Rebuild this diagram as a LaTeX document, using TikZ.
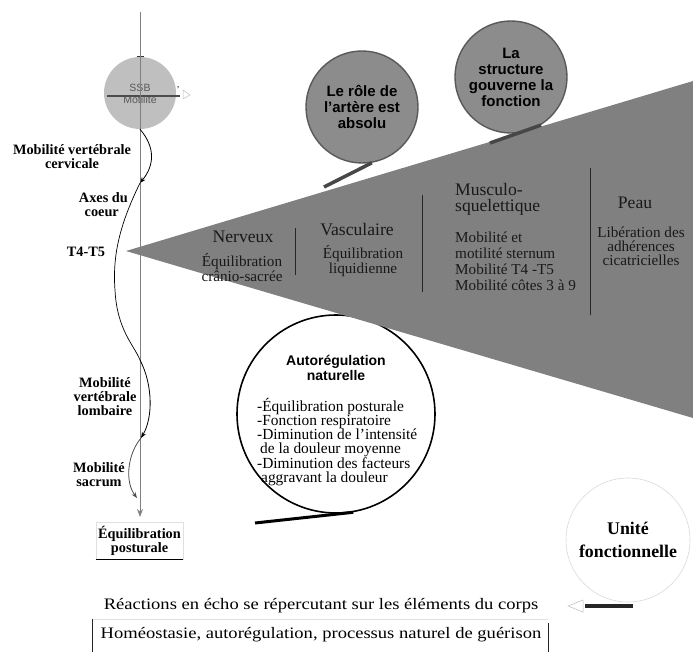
\documentclass[tikz,border=0pt]{standalone}
\usepackage{fontspec}
\setmainfont{Liberation Serif}
\setsansfont{Liberation Sans}
\newfontfamily\widefont{Liberation Serif}[FakeStretch=1.16]
\usetikzlibrary{arrows.meta}

\begin{document}
\begin{tikzpicture}[x=1pt,y=-1pt,
  spinelbl/.style={font=\bfseries\fontsize{14.3}{14}\selectfont, align=center, inner sep=0pt},
  sysname/.style={font=\fontsize{17.6}{15.5}\selectfont, inner sep=0pt, black!90},
  systext/.style={font=\fontsize{15.2}{15}\selectfont, align=center, inner sep=0pt, black!90},
  bubble/.style={circle, draw=black!65, line width=1.4pt, fill=black!45, minimum size=112pt, inner sep=0pt, font=\sffamily\bfseries\fontsize{15}{16}\selectfont, align=center},
  stem/.style={line width=3.5pt, black!72},
  spinearrow/.style={line width=0.8pt, -{Stealth[length=6pt,width=4.5pt]}},
  sep/.style={line width=1pt, black!85}]

\useasboundingbox (0,0) rectangle (693,655);

% autoregulation circle goes under the fan
\node[circle, draw=black, line width=1.6pt, minimum size=198pt] (auto) at (336,414) {};
\fill[black!50] (126,251) -- (693,81) -- (693,418) -- cycle;

% bubbles on top of the fan
\node[bubble] (artere) at (362,107) {Le rôle de\\l'artère est\\absolu};
\node[bubble] (struct) at (511,77) {La\\structure\\gouverne la\\fonction};
\coordinate (artfoot) at (324,187);
\coordinate (strfoot) at (490,143);
\draw[stem] (artere.-80) -- (artfoot);
\draw[stem] (struct.-58) -- (strfoot);

% systems in the fan
\node[sysname] (nerv) at (243,237) {Nerveux};
\node[systext] (nervtx) at (242,268) {Équilibration\\crânio-sacrée};
\node[sysname] (vasc) at (357,230) {Vasculaire};
\node[systext] (vasctx) at (363,261) {Équilibration\\liquidienne};
\node[sysname, align=left, anchor=north west, font=\fontsize{17.6}{16.5}\selectfont] (musc) at (455,183) {Musculo-\\squelettique};
\node[systext, align=left, font=\fontsize{15.2}{16}\selectfont, anchor=north west] (musctx) at (455,232) {Mobilité et\\motilité sternum\\Mobilité T4 -T5\\Mobilité côtes 3 à 9};
\node[sysname] (peau) at (635,203) {Peau};
\node[systext, font=\fontsize{15.2}{14}\selectfont] (peautx) at (641,246) {Libération des\\adhérences\\cicatricielles};
\draw[sep] (295,228) -- (295,275);
\draw[sep] (422,195) -- (422,292);
\draw[sep] (590,168) -- (590,315);

% spine
\node[circle, fill=black!25, minimum size=72pt, inner sep=0pt] (ssb) at (140,93) {};
\node[font=\sffamily\fontsize{10.5}{12}\selectfont, text=black!65, align=center, inner sep=0pt] (ssbtx) at (140,94) {SSB\\Motilité};
\draw[black!70, line width=1.1pt] (107,96) -- (180,96);
\draw[black!80, line width=1pt] (137,57) -- (144,57);
\coordinate (top) at (140,12);
\coordinate (bottom) at (140,517);
\draw[black!50, line width=0.9pt, -{Stealth[length=8pt,width=6pt]}] (top) -- (bottom);
\node[font=\fontsize{9}{9}\selectfont, inner sep=0pt] (tick) at (178,90) {'};
\draw[black!25, fill=white, line width=0.5pt] (183,90) -- (190,95) -- (183,99) -- cycle;

\coordinate (c1) at (140,183);
\coordinate (c2) at (140,360);
\coordinate (c3) at (141,438);
\coordinate (c4) at (137,498);
\draw[spinearrow] (ssb.south) .. controls (156,148) and (154,166) .. (c1);
\draw[line width=0.7pt] (c1) .. controls (122,220) and (112,252) .. (115,290) .. controls (117,330) and (134,345) .. (c2);
\draw[spinearrow] (c2) .. controls (153,385) and (153,418) .. (c3);
\draw[spinearrow, black!70] (c3) .. controls (127,455) and (125,482) .. (c4);

\node[spinelbl] (cerv) at (72,157) {Mobilité vertébrale\\cervicale};
\node[spinelbl, align=right, anchor=east] (axes) at (128,205) {Axes du\\coeur\hspace*{9pt}};
\node[spinelbl] (t45) at (86,252) {T4-T5};
\node[spinelbl] (lomb) at (105,397) {Mobilité\\vertébrale\\lombaire};
\node[spinelbl] (sacr) at (99,475) {Mobilité\\sacrum};
\node[spinelbl, draw=black!12, line width=0.6pt, minimum width=87pt, minimum height=37pt] (eqpost) at (139.5,540.5) {Équilibration\\posturale};
\draw[line width=1.2pt] (eqpost.south west) -- (eqpost.south east);

% autoregulation
\node[font=\sffamily\bfseries\fontsize{14}{15}\selectfont, align=center, inner sep=0pt] (autotit) at (336,368) {Autorégulation\\naturelle};
\node[font=\fontsize{15.4}{14}\selectfont, align=left, inner sep=0pt, anchor=north west] (autolist) at (257,398) {-Équilibration posturale\\-Fonction respiratoire\\-Diminution de l'intensité\\\hspace*{3pt}de la douleur moyenne\\-Diminution des facteurs\\\hspace*{4pt}aggravant la douleur};
\coordinate (autofoot) at (255,523);
\draw[stem, black, line width=3pt] (autofoot) -- (auto.-80);

% unity and bottom lines
\node[circle, draw=black!15, line width=0.6pt, minimum size=124pt, font=\bfseries\fontsize{17.8}{23}\selectfont, align=center, inner sep=0pt] (unite) at (628,540) {Unité\\fonctionnelle};
\node[font=\widefont\fontsize{16}{16}\selectfont, inner sep=0pt] (echo) at (321,606) {Réactions en écho se répercutant sur les éléments du corps};
\coordinate (echoend) at (633,606);
\coordinate (echohead) at (585,606);
\draw[line width=3.5pt, black!85] (echoend) -- (echohead);
\draw[black!25, fill=white, line width=0.5pt] (583,600) -- (568,606) -- (583,612) -- cycle;

\node[font=\widefont\fontsize{16}{16}\selectfont, inner sep=0pt] (homeo) at (321,635) {Homéostasie, autorégulation, processus naturel de guérison};
\draw[black!12, line width=0.6pt] (92,619) -- (548,619);
\draw[black!85, line width=0.9pt] (92,619) -- (92,652);
\draw[black!85, line width=0.9pt] (548,623) -- (548,652);
\end{tikzpicture}
\end{document}
